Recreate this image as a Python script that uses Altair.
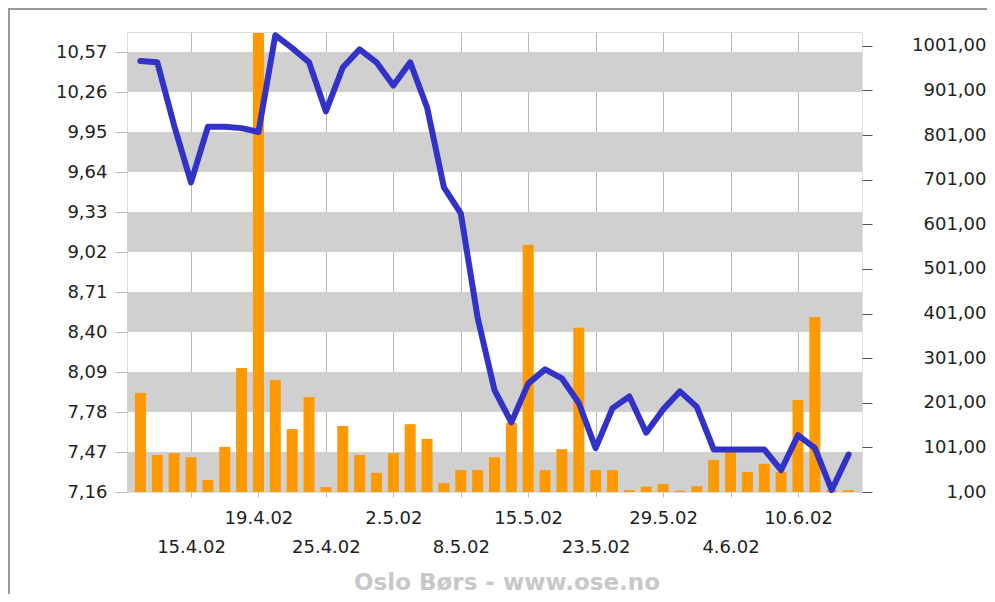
import altair as alt
import pandas as pd

# ---- data ----
dates = ["10.4.02", "11.4.02", "12.4.02", "15.4.02", "16.4.02", "17.4.02", "18.4.02", "19.4.02",
         "22.4.02", "23.4.02", "24.4.02", "25.4.02", "26.4.02", "29.4.02", "30.4.02",
         "2.5.02", "3.5.02", "6.5.02", "7.5.02", "8.5.02", "10.5.02", "13.5.02", "14.5.02",
         "15.5.02", "16.5.02", "21.5.02", "22.5.02", "23.5.02", "24.5.02", "27.5.02", "28.5.02",
         "29.5.02", "30.5.02", "31.5.02", "3.6.02", "4.6.02", "5.6.02", "6.6.02", "7.6.02",
         "10.6.02", "11.6.02", "12.6.02", "13.6.02"]

price = [10.50, 10.49, 10.00, 9.56, 9.99, 9.99, 9.98, 9.95,
         10.70, 10.60, 10.49, 10.11, 10.45, 10.59, 10.49,
         10.31, 10.49, 10.14, 9.52, 9.32, 8.51, 7.95, 7.70,
         8.00, 8.11, 8.04, 7.85, 7.50, 7.81, 7.90, 7.62,
         7.80, 7.94, 7.82, 7.49, 7.49, 7.49, 7.49, 7.33,
         7.60, 7.50, 7.175, 7.45]

volume = [223, 84, 88, 79, 28, 102, 279, 1030,
          252, 142, 214, 12, 149, 84, 44,
          88, 153, 120, 21, 50, 50, 79, 156,
          555, 50, 97, 369, 50, 50, 5, 13,
          19, 4, 14, 73, 91, 46, 64, 46,
          207, 393, 5, 5]

left_ticks = [7.16, 7.47, 7.78, 8.09, 8.40, 8.71, 9.02, 9.33, 9.64, 9.95, 10.26, 10.57]
right_ticks = [1, 101, 201, 301, 401, 501, 601, 701, 801, 901, 1001]
upper_idx = [7, 15, 23, 31, 39]
lower_idx = [3, 11, 19, 27, 35]
footer = "Oslo Børs - www.ose.no"

# ---- tables ----
df = pd.DataFrame({"i": list(range(len(dates))), "date": dates,
                   "price": price, "volume": volume})
bands = pd.DataFrame({"lo": left_ticks[0::2], "hi": left_ticks[1::2]})
one = pd.DataFrame({"t": [footer]})

W, H = 735, 460
FONT = "DejaVu Sans"
TXT = "#222222"

xscale = alt.Scale(domain=[-0.5, len(dates) - 0.5], nice=False, zero=False)
labels_js = "[" + ",".join("'" + d + "'" for d in dates) + "]"
xaxis = alt.Axis(
    values=sorted(upper_idx + lower_idx),
    labelExpr=labels_js + "[datum.value]",
    grid=True, gridColor="#B8B8B8", gridWidth=1,
    domain=False, ticks=True, tickSize=5, tickColor="#BBBBBB",
    labelPadding={"condition": {"test": "indexof(" + str(lower_idx) + ", datum.value) >= 0",
                                "value": 41}, "value": 12},
    labelFont=FONT, labelFontSize=18, labelColor=TXT, labelAngle=0,
    labelOverlap=False, labelFlush=False, title=None,
)
X = alt.X("i:Q", scale=xscale, axis=xaxis)

yl = alt.Scale(domain=[7.16, 10.725], nice=False, zero=False)
yr = alt.Scale(domain=[1, 1032], nice=False, zero=False)
fmt = "replace(format(datum.value, '.2f'), '.', ',')"

left_axis = alt.Axis(values=left_ticks, labelExpr=fmt, grid=False, domain=False,
                     tickSize=12, tickColor="#BBBBBB", labelPadding=8,
                     labelFont=FONT, labelFontSize=18, labelColor=TXT, title=None)
right_axis = alt.Axis(orient="right", values=right_ticks, labelExpr=fmt, grid=False,
                      domain=False, tickSize=10, tickColor="#555555", labelAlign="right",
                      labelPadding=114, labelFont=FONT, labelFontSize=18, labelColor=TXT,
                      title=None)

border = alt.Chart(one).mark_rect(fillOpacity=0, stroke="#999999", strokeWidth=2).encode(
    x=alt.value(-118), x2=alt.value(W + 140), y=alt.value(-23), y2=alt.value(H + 120))

band_layer = alt.Chart(bands).mark_rect(color="#D0D0D0").encode(
    x=alt.value(0), x2=alt.value(W),
    y=alt.Y("lo:Q", scale=yl, axis=left_axis), y2="hi:Q")

bars = alt.Chart(df).mark_bar(color="#FF9900", size=11, clip=True).encode(
    x=X, y=alt.Y("volume:Q", scale=yr, axis=right_axis), y2=alt.datum(1))

line = alt.Chart(df).mark_line(color="#3232C8", strokeWidth=6, strokeJoin="round",
                               strokeCap="round").encode(
    x=X, y=alt.Y("price:Q", scale=yl, axis=None))

foot = alt.Chart(one).mark_text(font=FONT, fontSize=23, fontWeight="bold", color="#C8C8C8",
                                align="center", baseline="middle").encode(
    text="t:N", x=alt.value(380), y=alt.value(551))

chart = alt.layer(border, band_layer, bars, line, foot).resolve_scale(
    y="independent"
).properties(
    width=W, height=H,
    autosize=alt.AutoSizeParams(type="none"),
    padding={"left": 119, "top": 24, "right": 125, "bottom": 102},
).configure_view(stroke="#C4C4C4", strokeWidth=1).configure(background="white")

chart.save("out.html", embed_options={"renderer": "svg", "actions": False})
